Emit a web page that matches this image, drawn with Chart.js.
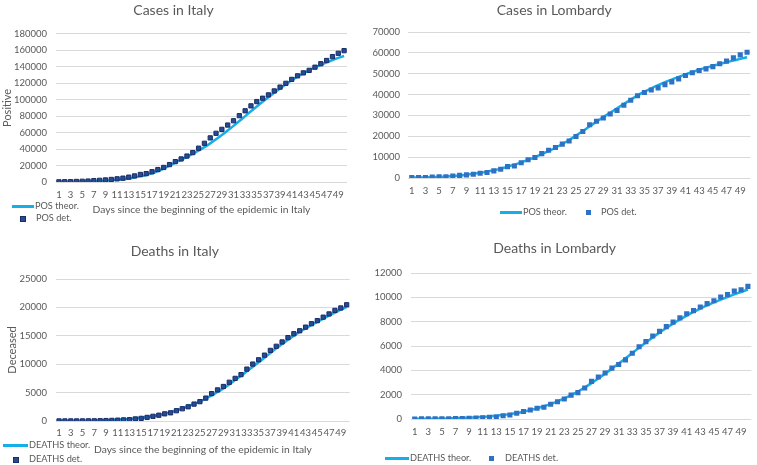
<!DOCTYPE html>
<html>
<head>
<meta charset="utf-8">
<script src="https://cdn.jsdelivr.net/npm/chart.js@4/dist/chart.umd.min.js"></script>
<style>
  body { margin: 0; width: 757px; height: 465px; background: #fff; position: relative; overflow: hidden; font-family: Lato, sans-serif; }
  .box { position: absolute; }
  .lg { position: absolute; font-size: 9.2px; color: #595959; white-space: nowrap; line-height: 12px; }
  .ln { position: absolute; height: 3px; background: #14aee8; }
  .sq { position: absolute; width: 5px; height: 5px; }
</style>
</head>
<body>
<div class="box" style="left:0;top:0;width:378px;height:230px"><canvas id="c-italy-cases"></canvas></div>
<div class="box" style="left:358px;top:0;width:399px;height:230px"><canvas id="c-lomb-cases"></canvas></div>
<div class="box" style="left:0;top:230px;width:378px;height:235px"><canvas id="c-italy-deaths"></canvas></div>
<div class="box" style="left:358px;top:230px;width:399px;height:235px"><canvas id="c-lomb-deaths"></canvas></div>

<!-- legends -->
<div class="ln" style="left:12px;top:205px;width:22px"></div>
<div class="lg" style="left:35px;top:200px">POS theor.</div>
<div class="sq" style="left:20px;top:216px;background:#2a4a92;border:1px solid #172e6b;width:4px;height:4px"></div>
<div class="lg" style="left:36px;top:212px">POS det.</div>

<div class="ln" style="left:500px;top:211px;width:22px"></div>
<div class="lg" style="left:523px;top:206px">POS theor.</div>
<div class="sq" style="left:586px;top:210px;background:#2f72c4"></div>
<div class="lg" style="left:601px;top:206px">POS det.</div>

<div class="ln" style="left:3px;top:444px;width:25px"></div>
<div class="lg" style="left:29px;top:439px">DEATHS theor.</div>
<div class="sq" style="left:13px;top:457px;background:#2a4a92;border:1px solid #172e6b;width:4px;height:4px"></div>
<div class="lg" style="left:29px;top:453px">DEATHS det.</div>

<div class="ln" style="left:385px;top:457px;width:24px"></div>
<div class="lg" style="left:410px;top:452px">DEATHS theor.</div>
<div class="sq" style="left:489px;top:456px;background:#2f72c4"></div>
<div class="lg" style="left:505px;top:452px">DEATHS det.</div>

<script>
const days = [1, 2, 3, 4, 5, 6, 7, 8, 9, 10, 11, 12, 13, 14, 15, 16, 17, 18, 19, 20,
  21, 22, 23, 24, 25, 26, 27, 28, 29, 30, 31, 32, 33, 34, 35, 36, 37, 38, 39, 40,
  41, 42, 43, 44, 45, 46, 47, 48, 49, 50];

// Italy - positives
const italyCasesDet = [230, 320, 400, 650, 890, 1130, 1690, 2040, 2500, 3090, 3860, 4640, 5880, 7380, 9170,
  10150, 12460, 15110, 17660, 21160, 24750, 27980, 31510, 35710, 41040, 47020, 53580, 59140, 63930, 69180,
  74390, 80540, 86500, 92470, 97690, 101740, 105790, 110570, 115240, 119830, 124630, 128950, 132550, 135590,
  139420, 143630, 147580, 152270, 156360, 159520];
const italyCasesTheor = [200, 280, 370, 480, 620, 800, 1030, 1320, 1680, 2130, 2700, 3400, 4300, 5400, 6800,
  8500, 10600, 13200, 16300, 19800, 23400, 27000, 30600, 34300, 38000, 42300, 46900, 51800, 57000, 62500,
  68200, 74000, 80000, 86000, 91800, 97400, 102900, 108400, 113700, 118800, 123500, 128000, 132000, 135700,
  139100, 142300, 145300, 148100, 150700, 153100];

// Lombardy - positives
const lombCasesDet = [170, 240, 260, 400, 530, 620, 980, 1250, 1520, 1820, 2250, 2610, 3420, 4190, 5470,
  5790, 7280, 8730, 9820, 11690, 13270, 14650, 16220, 17710, 19880, 22260, 25520, 27210, 28760, 30700,
  32350, 34890, 37300, 39420, 41010, 42160, 43210, 44770, 46070, 47520, 49120, 50460, 51530, 52330, 53410,
  54800, 56050, 57590, 59050, 60310];
const lombCasesTheor = [190, 250, 330, 430, 560, 730, 950, 1230, 1580, 2000, 2480, 3050, 3700, 4500, 5400,
  6400, 7500, 8700, 10000, 11400, 12900, 14500, 16300, 18200, 20300, 22500, 24800, 27000, 29200, 31300,
  33400, 35500, 37600, 39600, 41400, 43000, 44500, 45900, 47200, 48500, 49700, 50800, 51900, 52900, 53800,
  54700, 55500, 56300, 57100, 57900];

// Italy - deaths
const italyDeathsDet = [7, 10, 12, 17, 21, 29, 34, 52, 79, 107, 148, 197, 233, 366, 463, 631, 827, 1016, 1266,
  1441, 1809, 2158, 2503, 2978, 3405, 4032, 4825, 5476, 6077, 6820, 7503, 8165, 9134, 10023, 10779, 11591,
  12428, 13155, 13915, 14681, 15362, 15887, 16523, 17127, 17669, 18279, 18849, 19468, 19899, 20465];
const italyDeathsTheor = [10, 15, 20, 30, 40, 55, 75, 100, 130, 170, 220, 280, 360, 450, 560, 700, 870, 1070,
  1300, 1560, 1860, 2200, 2580, 3000, 3450, 3950, 4500, 5100, 5750, 6450, 7200, 7950, 8750, 9550, 10350,
  11150, 11950, 12800, 13550, 14300, 15000, 15700, 16300, 16900, 17450, 18000, 18550, 19100, 19600, 20100];

// Lombardy - deaths
const lombDeathsDet = [6, 9, 9, 14, 17, 23, 31, 38, 55, 73, 98, 135, 154, 267, 333, 468, 617, 744, 890, 966,
  1218, 1420, 1640, 1959, 2168, 2549, 3095, 3456, 3776, 4178, 4474, 4861, 5402, 5944, 6360, 6818, 7199,
  7593, 7960, 8311, 8656, 8905, 9202, 9484, 9722, 10022, 10238, 10511, 10621, 10901];
const lombDeathsTheor = [10, 15, 20, 28, 38, 50, 65, 85, 110, 140, 175, 215, 265, 325, 400, 490, 600, 730,
  880, 1050, 1240, 1450, 1690, 1960, 2260, 2590, 2950, 3330, 3730, 4140, 4560, 4990, 5420, 5860, 6290, 6700,
  7100, 7480, 7840, 8180, 8500, 8800, 9080, 9340, 9580, 9810, 10030, 10240, 10440, 10640];

const TEXT = '#595959';
const GRID = '#d9d9d9';
const LINE = '#14aee8';

function makeChart(id, cfg) {
  const yTitle = cfg.yTitle ? {
    display: true, text: cfg.yTitle, color: TEXT,
    font: { family: 'Lato', size: 11 }, padding: { top: cfg.yTitlePad, bottom: 0 }
  } : { display: false };
  const xTitle = cfg.xTitle ? {
    display: true, text: cfg.xTitle, color: TEXT,
    font: { family: 'Lato', size: 10.3 }, padding: { top: 0, bottom: cfg.xTitlePad }
  } : { display: false };

  return new Chart(document.getElementById(id), {
    type: 'line',
    data: {
      labels: days,
      datasets: [
        {
          label: cfg.detLabel,
          data: cfg.det,
          showLine: false,
          pointStyle: 'rect',
          pointRadius: cfg.dark ? 3 : 3.6,
          pointBackgroundColor: cfg.dark ? '#2a4a92' : '#2f72c4',
          pointBorderColor: cfg.dark ? '#172e6b' : '#2f72c4',
          pointBorderWidth: cfg.dark ? 1 : 0,
          order: 0
        },
        {
          label: cfg.theorLabel,
          data: cfg.theor,
          borderColor: LINE,
          borderWidth: 2.5,
          pointRadius: 0,
          tension: 0.3,
          fill: false,
          order: 1
        }
      ]
    },
    options: {
      responsive: true,
      maintainAspectRatio: false,
      animation: false,
      layout: { padding: { left: 0, right: cfg.padRight, top: 0, bottom: 0 } },
      plugins: {
        legend: { display: false },
        tooltip: { enabled: false },
        title: {
          display: true, text: cfg.title, color: TEXT,
          font: { family: 'Lato', size: 14, weight: 'normal' },
          padding: cfg.titlePad
        }
      },
      scales: {
        x: {
          offset: true,
          grid: { display: false, drawTicks: false },
          border: { display: false },
          ticks: {
            color: TEXT, font: { family: 'Lato', size: 9.5 },
            autoSkip: false, maxRotation: 0, minRotation: 0, padding: cfg.xTickPad,
            callback: (v, i) => (i % 2 === 0 ? String(days[i]) : '')
          },
          title: xTitle,
          afterFit: s => { s.height = cfg.xHeight; }
        },
        y: {
          min: 0, max: cfg.max,
          grid: { color: GRID, lineWidth: 1, drawTicks: false },
          border: { display: false },
          ticks: {
            stepSize: cfg.step, color: TEXT, font: { family: 'Lato', size: 9.5 },
            padding: cfg.yTickPad,
            callback: v => String(v)
          },
          title: yTitle,
          afterFit: s => { s.width = cfg.yWidth; }
        }
      }
    }
  });
}

const xAxisTitle = 'Days since the beginning of the epidemic in Italy';

makeChart('c-italy-cases', {
  title: 'Cases in Italy', det: italyCasesDet, theor: italyCasesTheor,
  detLabel: 'POS det.', theorLabel: 'POS theor.', dark: true,
  max: 180000, step: 20000,
  yTitle: 'Positive', yTitlePad: 0.5, xTitle: xAxisTitle, xTitlePad: 13.8,
  yWidth: 56, padRight: 31, titlePad: { top: 2, bottom: 15 },
  xHeight: 48, yTickPad: 9, xTickPad: 7.5
});

makeChart('c-lomb-cases', {
  title: 'Cases in Lombardy', det: lombCasesDet, theor: lombCasesTheor,
  detLabel: 'POS det.', theorLabel: 'POS theor.', dark: false,
  max: 70000, step: 10000,
  yWidth: 50.3, padRight: 6.5, titlePad: { top: 1.6, bottom: 13.6 },
  xHeight: 52, yTickPad: 8.3, xTickPad: 7.5
});

makeChart('c-italy-deaths', {
  title: 'Deaths in Italy', det: italyDeathsDet, theor: italyDeathsTheor,
  detLabel: 'DEATHS det.', theorLabel: 'DEATHS theor.', dark: true,
  max: 25000, step: 5000,
  yTitle: 'Deceased', yTitlePad: 5.4, xTitle: xAxisTitle, xTitlePad: 8.8,
  yWidth: 56.1, padRight: 28.4, titlePad: { top: 12.6, bottom: 19.6 },
  xHeight: 44, yTickPad: 9, xTickPad: 6.5
});

makeChart('c-lomb-deaths', {
  title: 'Deaths in Lombardy', det: lombDeathsDet, theor: lombDeathsTheor,
  detLabel: 'DEATHS det.', theorLabel: 'DEATHS theor.', dark: false,
  max: 12000, step: 2000,
  yWidth: 53.3, padRight: 5.7, titlePad: { top: 9.6, bottom: 16.6 },
  xHeight: 46, yTickPad: 9.3, xTickPad: 7.5
});
</script>
</body>
</html>
